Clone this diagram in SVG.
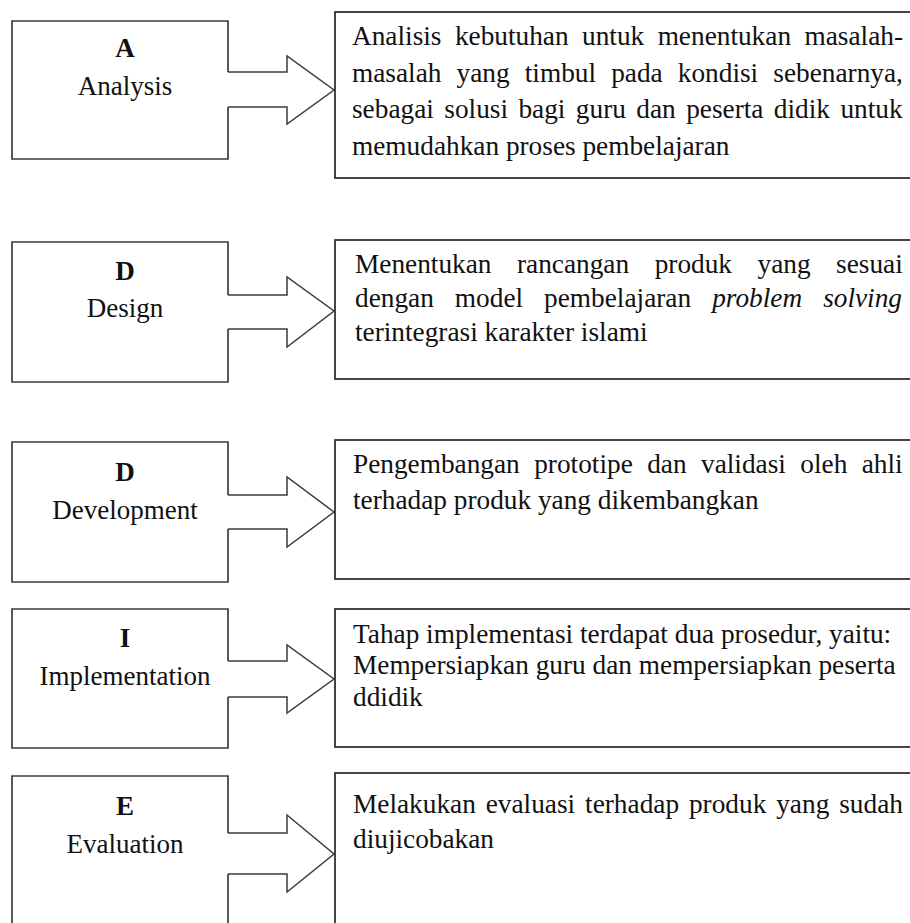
<svg xmlns="http://www.w3.org/2000/svg" width="910" height="923" viewBox="0 0 910 923">
<style>
.bx{fill:none;stroke:#3c3c3c;stroke-width:1.7;stroke-linejoin:miter}
.rb{fill:#fff;stroke:#262626;stroke-width:1.7}
.ar{fill:none;stroke:#3c3c3c;stroke-width:1.5;stroke-linejoin:miter}
.t{font-family:"Liberation Serif","Times New Roman",serif;font-size:27.3px;fill:#111}
.lb{font-family:"Liberation Serif","Times New Roman",serif;font-size:27px;fill:#111;text-anchor:middle}
.b{font-weight:bold}
</style>
<rect width="910" height="923" fill="#fff"/>

<g id="connectors">
<path class="ar" d="M228,72 H287 V56 L334,90 L287,124 V107 H228"/>
<path class="ar" d="M228,295 H287 V277 L334,311 L287,347 V329 H228"/>
<path class="ar" d="M228,495 H287 V477 L334,512 L287,547 V529 H228"/>
<path class="ar" d="M228,661 H287 V645 L334,679 L287,713 V697 H228"/>
<path class="ar" d="M228,833 H287 V815 L334,854 L287,892 V874 H228"/>
</g>

<g id="analysis">
<path class="bx" d="M228,72 V21 H12 V159 H228 V107"/>
<text class="lb b" x="125" y="57">A</text>
<text class="lb" x="125" y="95">Analysis</text>
</g>
<g id="analysis-desc">
<rect class="rb" x="335" y="12" width="600" height="166"/>
<text class="t" x="352" y="45" word-spacing="6.6">Analisis kebutuhan untuk menentukan masalah-</text>
<text class="t" x="352" y="82" word-spacing="8.3">masalah yang timbul pada kondisi sebenarnya,</text>
<text class="t" x="352" y="118" word-spacing="3.6">sebagai solusi bagi guru dan peserta didik untuk</text>
<text class="t" x="352" y="155">memudahkan proses pembelajaran</text>
</g>

<g id="design">
<path class="bx" d="M228,295 V242 H12 V382 H228 V329"/>
<text class="lb b" x="125" y="280">D</text>
<text class="lb" x="125" y="317">Design</text>
</g>
<g id="design-desc">
<rect class="rb" x="335" y="240" width="600" height="139"/>
<text class="t" x="355" y="273" word-spacing="18.7">Menentukan rancangan produk yang sesuai</text>
<text class="t" x="355" y="307" word-spacing="14.2">dengan model pembelajaran <tspan font-style="italic">problem solving</tspan></text>
<text class="t" x="355" y="341">terintegrasi karakter islami</text>
</g>

<g id="development">
<path class="bx" d="M228,495 V442 H12 V582 H228 V529"/>
<text class="lb b" x="125" y="481">D</text>
<text class="lb" x="125" y="519">Development</text>
</g>
<g id="development-desc">
<rect class="rb" x="335" y="440" width="600" height="139"/>
<text class="t" x="353" y="473" word-spacing="7.6">Pengembangan prototipe dan validasi oleh ahli</text>
<text class="t" x="353" y="509">terhadap produk yang dikembangkan</text>
</g>

<g id="implementation">
<path class="bx" d="M228,661 V609 H12 V748 H228 V697"/>
<text class="lb b" x="125" y="647">I</text>
<text class="lb" x="125" y="685">Implementation</text>
</g>
<g id="implementation-desc">
<rect class="rb" x="335" y="609" width="600" height="138"/>
<text class="t" x="353" y="643">Tahap implementasi terdapat dua prosedur, yaitu:</text>
<text class="t" x="353" y="674">Mempersiapkan guru dan mempersiapkan peserta</text>
<text class="t" x="353" y="706">ddidik</text>
</g>

<g id="evaluation">
<path class="bx" d="M228,833 V776 H12 V940 M228,874 V940"/>
<text class="lb b" x="125" y="815">E</text>
<text class="lb" x="125" y="853">Evaluation</text>
</g>
<g id="evaluation-desc">
<rect class="rb" x="335" y="773" width="600" height="180"/>
<text class="t" x="353" y="813" word-spacing="3.1">Melakukan evaluasi terhadap produk yang sudah</text>
<text class="t" x="353" y="848">diujicobakan</text>
</g>
</svg>
